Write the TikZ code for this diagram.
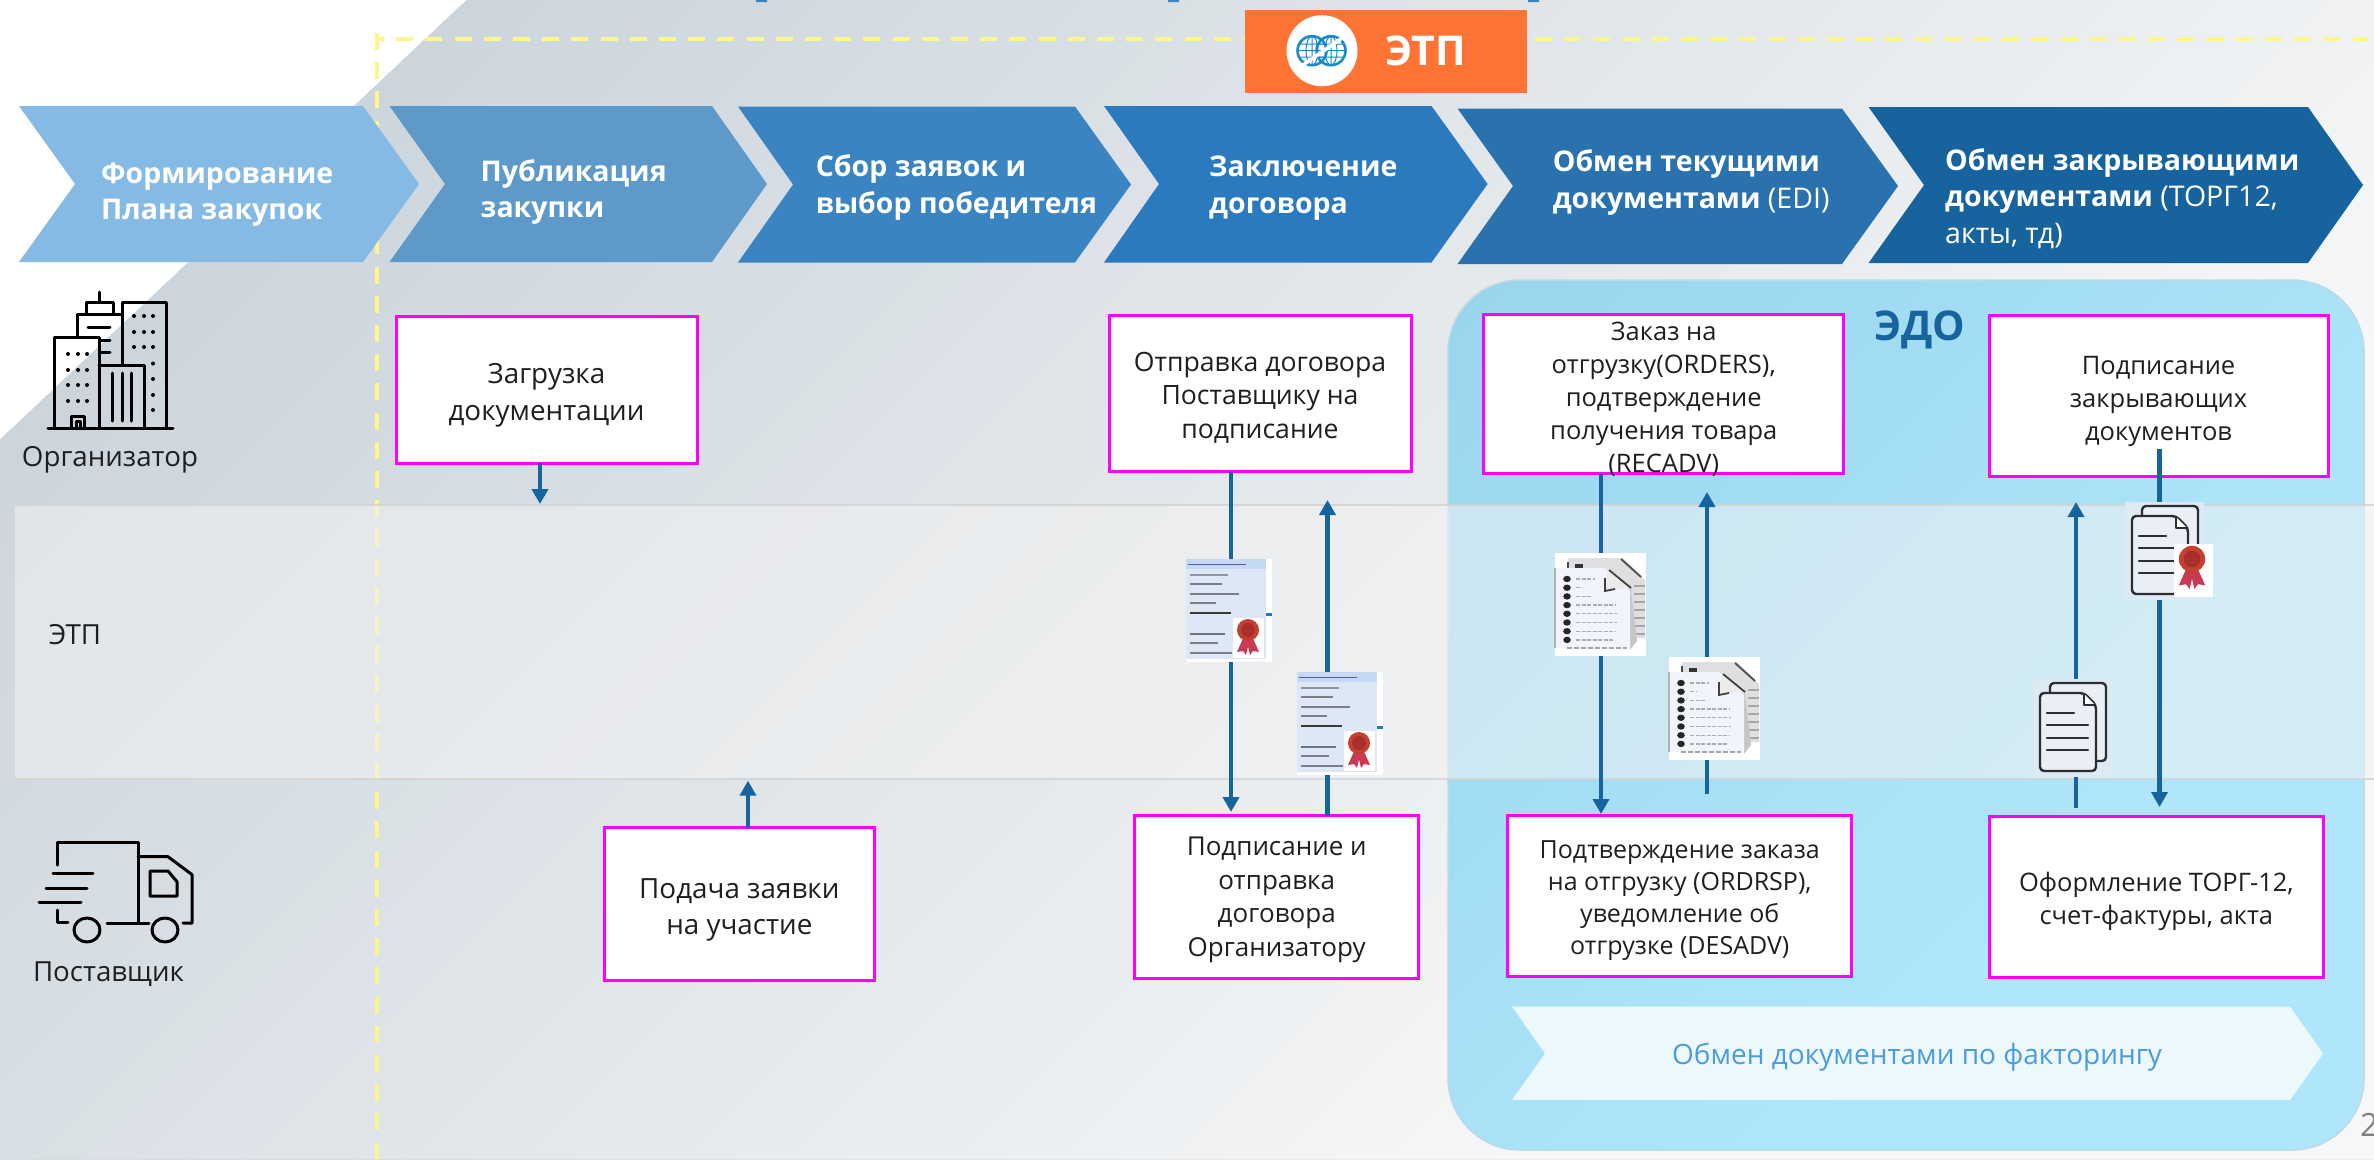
\documentclass[tikz,border=0pt]{standalone}
\usepackage{fontspec}
\setmainfont{Open Sans}
\usetikzlibrary{arrows.meta,calc}
\definecolor{flowblue}{HTML}{17639D}
\definecolor{pinkline}{HTML}{FF00FF}
\definecolor{dashyellow}{HTML}{FFF68A}
\definecolor{chA}{HTML}{85BAE4}
\definecolor{chB}{HTML}{5E9AC9}
\definecolor{chC}{HTML}{3A84C1}
\definecolor{chD}{HTML}{2A7ABD}
\definecolor{chE}{HTML}{2A72AD}
\definecolor{chF}{HTML}{17639D}
\definecolor{inktext}{HTML}{1F1F1F}
\definecolor{sealred}{HTML}{C4402F}
\definecolor{sealdark}{HTML}{A92F2A}
\definecolor{ribbon}{HTML}{C93B55}
\definecolor{iconink}{HTML}{2B2F33}
\definecolor{certpanel}{HTML}{DDE7F6}
\definecolor{certhead}{HTML}{C5D9F2}
\definecolor{certtab}{HTML}{1F7AC4}
\definecolor{bgstart}{HTML}{C4CFD7}
\definecolor{bgend}{HTML}{F6F7F8}
\definecolor{edostart}{HTML}{9AD5EE}
\definecolor{edoend}{HTML}{AFE6FB}
\definecolor{edoedge}{HTML}{BED9E5}
\definecolor{factfill}{HTML}{EDF8FD}
\definecolor{facttext}{HTML}{4A9CDE}
\definecolor{tagorange}{HTML}{FF7335}
\definecolor{globeblue}{HTML}{1A8ACB}
\definecolor{paperbg}{HTML}{DDEAF3}
\definecolor{paperfill}{HTML}{E9EFF4}
\definecolor{bandfill}{HTML}{F2F2F2}
\tikzset{
  procbox/.style={draw=pinkline,line width=3pt,fill=white,inner sep=0pt,outer sep=0pt},
  boxtext/.style={align=center,text=inktext,inner sep=0pt,yshift=-3.5pt,font=\fontsize{25.5}{33}\selectfont},
  bigboxtext/.style={align=center,text=inktext,inner sep=0pt,yshift=-3.5pt,font=\fontsize{27.8}{36.6}\selectfont},
  sidetext/.style={text=inktext,inner sep=0pt,yshift=-3pt,font=\fontsize{27.7}{33}\selectfont},
  chevtext/.style={align=left,anchor=west,text=white,inner sep=0pt,yshift=-3.5pt,font=\fontsize{28.5}{36.6}\selectfont},
  flow/.style={draw=flowblue,line width=4.5pt},
  flowtip/.style={flow,-{Triangle[length=15pt,width=16pt]}},
  iconline/.style={draw=black,line width=3pt,line cap=round,line join=round},
  paperline/.style={draw=iconink,line width=2.4pt,line cap=round,line join=round},
  ydash/.style={draw=dashyellow,line width=4pt,dash pattern=on 17pt off 12.2pt},
  pics/seal/.style={code={
    \fill[ribbon] (-3,4) -- (-11,22) -- (-5,21) -- (-2,25) -- (2,8) -- cycle;
    \fill[ribbon] (3,4) -- (11,22) -- (5,21) -- (2,25) -- (-2,8) -- cycle;
    \fill[sealred] (0,0) circle (11);
    \fill[sealdark] (0,0) circle (7);
  }},
  pics/certform/.style={code={
    \fill[white] (0,0) rectangle (86,103);
    \fill[certpanel] (0,0) rectangle (80,100);
    \fill[certhead] (0,0) rectangle (80,10);
    \draw[gray!70!blue,line width=1pt] (2,5) -- (60,5);
    \foreach \ly/\lx/\lc in {16/42/35,25/36/45,35/53/45,44/30/45,53.7/45/75,75/39/50,84/32/45,94/46/45}
      \draw[black!\lc!certpanel,line width=1.7pt] (4,\ly) -- (\lx,\ly);
    \fill[certtab] (80,54) rectangle (86,57);
    \fill[white] (47,59) rectangle (78,99);
    \pic at (62,71) {seal};
  }},
  pics/docstack/.style={code={
    \fill[white] (0,0) rectangle (91,103);
    \fill[gray!25] (13,5) -- (68,5) -- (90,27) -- (90,85) -- (13,85) -- cycle;
    \foreach \ly in {33,41,...,81} \draw[gray!70,line width=1.5pt] (79,\ly) -- (90,\ly);
    \fill[black!70] (12,9) rectangle (14,25);
    \fill[black!80] (20,11) rectangle (28,15);
    \draw[gray!60!black,line width=1.8pt] (66,6) -- (86,24);
    \fill[gray!45] (75,30) -- (82,88) -- (75,97) -- cycle;
    \fill[certpanel!40!white] (0,15) -- (50,15) -- (75,38) -- (75,95) -- (0,95) -- cycle;
    \fill[white!92!black] (53,15) -- (76,34) -- (50,38) -- cycle;
    \draw[black!75,line width=1.8pt] (54,17) -- (76,35);
    \draw[black!75,line width=1.8pt] (50,25) -- (50,38) -- (60,36);
    \foreach \ly/\lx in {26/40,34.7/28,43.4/37,52.1/60,60.8/62,69.5/62,78.2/60,86.9/58}{
      \fill[black!85] (12,\ly) ellipse (3.8 and 3.2);
      \draw[gray!65,line width=1.3pt,dash pattern=on 4pt off 1.5pt] (21,\ly) -- (\lx,\ly);
    }
    \draw[gray!70,line width=1.8pt,dash pattern=on 5pt off 2pt] (12,95) -- (72,95);
    \draw[gray!60,line width=2pt] (0,15) -- (0,95);
  }},
  pics/paper/.style={code={
    \fill[paperbg] (0,0) rectangle (79,98);
    \draw[paperline,fill=paperfill,rounded corners=4pt] (17,14) -- (17,4) -- (73,4) -- (73,82) -- (63,82);
    \draw[paperline,fill=paperfill,rounded corners=4pt] (7,14) -- (51,14) -- (63,26) -- (63,92) -- (7,92) -- cycle;
    \fill[white] (51,15) -- (51,26) -- (62,26) -- cycle;
    \draw[paperline,line width=1.6pt] (51,15) -- (51,26) -- (62,26);
    \draw[paperline] (14,34) -- (41,34) (14,46) -- (55,46) (14,59) -- (55,59) (14,71) -- (55,71);
  }},
  pics/globe/.style={code={
    \draw[line width=2.6pt] (0,0) circle (14.5);
    \draw[line width=1pt] (0,0) ellipse (6 and 14.5) (0,-14.5) -- (0,14.5) (-14.5,0) -- (14.5,0) (-13,-6.5) -- (13,-6.5) (-13,6.5) -- (13,6.5);
  }}
}
\begin{document}
\begin{tikzpicture}[x=1pt,y=-1pt]
\useasboundingbox (0,0) rectangle (2374,1159);
% ---- background: diagonal gradient built from overlapping bands
\fill[white] (0,0) rectangle (2374,1159);
\begin{scope}
\clip (467,0) -- (2374,0) -- (2374,1159) -- (0,1159) -- (0,440) -- cycle;
\fill[bgstart] (0,0) rectangle (2374,1159);
\foreach \i in {1,...,50}{
  \pgfmathsetmacro{\bt}{\i*54}
  \pgfmathsetmacro{\bp}{\i*2}
  \fill[bgend!\bp!bgstart] (\bt+100,-100) -- (\bt-1300,1300) -- (2500,1300) -- (2500,-100) -- cycle;
}
\end{scope}
% ---- dashed frame
\draw[ydash,dash phase=9.5pt] (376.5,39) -- (2368,39);
\draw[ydash,dash phase=0pt] (376.5,33) -- (376.5,1159);
% ---- EDO panel
\begin{scope}
\clip[rounded corners=72pt] (1448,280) rectangle (2364,1150);
\fill[edostart] (1448,280) rectangle (2364,1150);
\foreach \i in {1,...,20}{
  \pgfmathsetmacro{\bt}{1728+\i*60}
  \pgfmathsetmacro{\bp}{\i*5}
  \fill[edoend!\bp!edostart] (\bt+100,-100) -- (\bt-1300,1300) -- (2500,1300) -- (2500,-100) -- cycle;
}
\end{scope}
\draw[rounded corners=72pt,draw=edoedge,line width=1.5pt] (1448,280) rectangle (2364,1150);
% ---- ETP band
\fill[bandfill,opacity=.55] (15,505) rectangle (2374,779);
\draw[gray!35,line width=1.5pt,opacity=.8] (15,505) -- (2374,505) (15,779) -- (2374,779);
% ---- cut-off heading fragments
\fill[chC] (756,0) rectangle (767,2) (1168,0) rectangle (1179,2) (1528,0) rectangle (1539,2);
% ---- chevrons
\fill[chA] (19,106) -- (363,106) -- (419,184) -- (363,262) -- (19,262) -- (75,184) -- cycle;
\fill[chB] (389.5,106) -- (712,106) -- (767,184) -- (712,262) -- (389.5,262) -- (445,184) -- cycle;
\fill[chC] (738,106.5) -- (1075,106.5) -- (1131,184.5) -- (1075,262.5) -- (738,262.5) -- (793,184.5) -- cycle;
\fill[chD] (1104,106) -- (1431.5,106) -- (1487.6,184) -- (1431.5,262.5) -- (1104,262.5) -- (1159,184) -- cycle;
\fill[chE] (1457.5,108.5) -- (1842,108.5) -- (1898,186) -- (1842,264) -- (1457.5,264) -- (1513,186) -- cycle;
\fill[chF] (1868.6,107) -- (2308,107) -- (2363,185) -- (2308,263) -- (1868.6,263) -- (1924,185) -- cycle;
\node[chevtext] (t1) at (101,191) {\textbf{Формирование}\\\textbf{Плана закупок}};
\node[chevtext] (t2) at (480.5,188.5) {\textbf{Публикация}\\\textbf{закупки}};
\node[chevtext] (t3) at (815.6,184) {\textbf{Сбор заявок и}\\\textbf{выбор победителя}};
\node[chevtext] (t4) at (1209,184.5) {\textbf{Заключение}\\\textbf{договора}};
\node[chevtext] (t5) at (1552.6,179) {\textbf{Обмен текущими}\\\textbf{документами} (EDI)};
\node[chevtext] (t6) at (1945,195) {\textbf{Обмен закрывающими}\\\textbf{документами} (ТОРГ12,\\акты, тд)};
% ---- orange ETP tag
\node[fill=tagorange,minimum width=282pt,minimum height=83pt,inner sep=0pt] (tag) at (1386,51.5) {};
\fill[white] (1322,50.7) circle (35.5);
\begin{scope}[draw=globeblue]
\pic at (1312,50.7) {globe};
\pic at (1331,50.7) {globe};
\end{scope}
\draw[white,line width=3.5pt] (1303,65) -- (1345,36);
\node[text=white,inner sep=0pt,yshift=-2pt,font=\fontsize{41}{43}\selectfont\bfseries] (tagtext) at (1426,49) {ЭТП};
% ---- process boxes
\node[procbox,minimum width=301pt,minimum height=147pt] (A) at (546.5,389.5) {};
\node[procbox,minimum width=302pt,minimum height=155.7pt] (B) at (1260,393.8) {};
\node[procbox,minimum width=360.5pt,minimum height=159.3pt] (C) at (1663.7,394.3) {};
\node[procbox,minimum width=339pt,minimum height=161pt] (D) at (2158.5,395.5) {};
\node[procbox,minimum width=270.6pt,minimum height=153pt] (E) at (739.3,904.2) {};
\node[procbox,minimum width=283.5pt,minimum height=162.3pt] (F) at (1276.7,896.9) {};
\node[procbox,minimum width=343.5pt,minimum height=161pt] (G) at (1679.7,896.2) {};
\node[procbox,minimum width=334.6pt,minimum height=161pt] (H) at (2156.3,896.5) {};
% factoring chevron
\fill[factfill] (1512,1006.5) -- (2290,1006.5) -- (2323,1053.5) -- (2290,1100) -- (1512,1100) -- (1545,1053.5) -- cycle;
% ---- flow arrows
\coordinate (a1) at (540,504);
\coordinate (a2) at (748,780.7);
\coordinate (a3) at (1231,812);
\coordinate (a4) at (1327.5,500);
\coordinate (a5) at (1601,814);
\coordinate (a6end) at (1707,492);
\coordinate (a6start) at (1707,794);
\coordinate (a7end) at (2076,502);
\coordinate (a7start) at (2076,808);
\coordinate (a8start) at (2159.5,449);
\coordinate (a8end) at (2159.5,807);
\draw[flowtip] (a1 |- A.south) -- (a1);
\draw[flowtip] (a2 |- E.north) -- (a2);
\draw[flowtip] (a3 |- B.south) -- (a3);
\draw[flowtip] (a4 |- F.north) -- (a4);
\draw[flowtip] (a5 |- C.south) -- (a5);
\draw[flowtip] (a6start) -- (a6end);
\draw[flowtip] (a7start) -- (a7end);
\draw[flowtip] (a8start) -- (a8end);
% ---- box texts
\node[bigboxtext] (Atext) at (546.5,392) {Загрузка\\документации};
\node[boxtext,font=\fontsize{26.6}{33.6}\selectfont] (Btext) at (1260,394) {Отправка договора\\Поставщику на\\подписание};
\node[boxtext] (Ctext) at (1663.7,396) {Заказ на\\отгрузку(ORDERS),\\подтверждение\\получения товара\\(RECADV)};
\node[boxtext] (Dtext) at (2158.5,398) {Подписание\\закрывающих\\документов};
\node[bigboxtext] (Etext) at (739.3,906.5) {Подача заявки\\на участие};
\node[boxtext,font=\fontsize{26}{33.6}\selectfont] (Ftext) at (1276.7,896.5) {Подписание и\\отправка\\договора\\Организатору};
\node[boxtext,font=\fontsize{25}{32}\selectfont] (Gtext) at (1679.7,897) {Подтверждение заказа\\на отгрузку (ORDRSP),\\уведомление об\\отгрузке (DESADV)};
\node[boxtext] (Htext) at (2156.3,898) {Оформление ТОРГ-12,\\счет-фактуры, акта};
\node[text=facttext,inner sep=0pt,yshift=-3.5pt,font=\fontsize{28}{32}\selectfont] (fact) at (1917,1054) {Обмен документами по факторингу};
\node[text=flowblue,inner sep=0pt,yshift=-3pt,font=\fontsize{41}{43}\selectfont\bfseries] (edo) at (1920,327) {ЭДО};
\node[sidetext] (org) at (110,457) {Организатор};
\node[sidetext] (etp) at (75,632) {ЭТП};
\node[sidetext] (sup) at (108.5,971) {Поставщик};
\node[text=gray,inner sep=0pt,anchor=west,font=\fontsize{32}{34}\selectfont] (pageno) at (2360,1125) {2};
% ---- document icons
\pic at (1186,559) {certform};
\pic at (1297,672) {certform};
\pic at (1555,553) {docstack};
\pic at (1669,657) {docstack};
\pic at (2033,679) {paper};
\pic at (2125,502) {paper};
\fill[white] (2174,544) rectangle (2213,597);
\pic[scale=1.2] at (2192,559) {seal};
% ---- building icon
\begin{scope}[iconline]
\draw (48,428) -- (173,428);
\draw (54,428) -- (54,337.6) -- (99,337.6) -- (99,428);
\draw (99,365) -- (144,365) -- (144,428);
\draw (122,365) -- (122,302) -- (166,302) -- (166,428);
\draw (77,337.6) -- (77,314) -- (122,314);
\draw (86,314) -- (86,302) -- (113,302) -- (113,314);
\draw (99,302) -- (99,292);
\draw (88,327) -- (110,327) (100,340) -- (110,340) (100,352) -- (110,352);
\draw (112,373) -- (112,421) (122,373) -- (122,421) (131,373) -- (131,421);
\draw (71,428) -- (71,416) -- (84,416) -- (84,428) (76,428) -- (76,421) -- (80,421) -- (80,428);
\end{scope}
\foreach \wx in {68,78,87} \foreach \wy in {354,370,385,401} \fill (\wx,\wy) circle (2);
\foreach \wx in {134,144,153} \foreach \wy in {316,332,347} \fill (\wx,\wy) circle (2);
\foreach \wy in {363.5,379,395,410} \fill (153,\wy) circle (2);
% ---- truck icon
\begin{scope}[iconline]
\draw (57,865) -- (57,842.5) -- (138,842.5) -- (138,923);
\draw (107,923) -- (149,923);
\draw (138,856.7) -- (168,856.7) -- (192,874.6) -- (192,923) -- (183,923);
\draw (150,871) -- (168,871) -- (177,881.7) -- (177,896) -- (150,896) -- cycle;
\draw (87,930) ellipse (13 and 12);
\draw (165,930) ellipse (13 and 12);
\draw (53,873.7) -- (93,873.7);
\draw (46,888) -- (87,888);
\draw (39,902.5) -- (81,902.5);
\draw (57,910) -- (57,922) -- (68,922);
\end{scope}
\end{tikzpicture}
\end{document}
